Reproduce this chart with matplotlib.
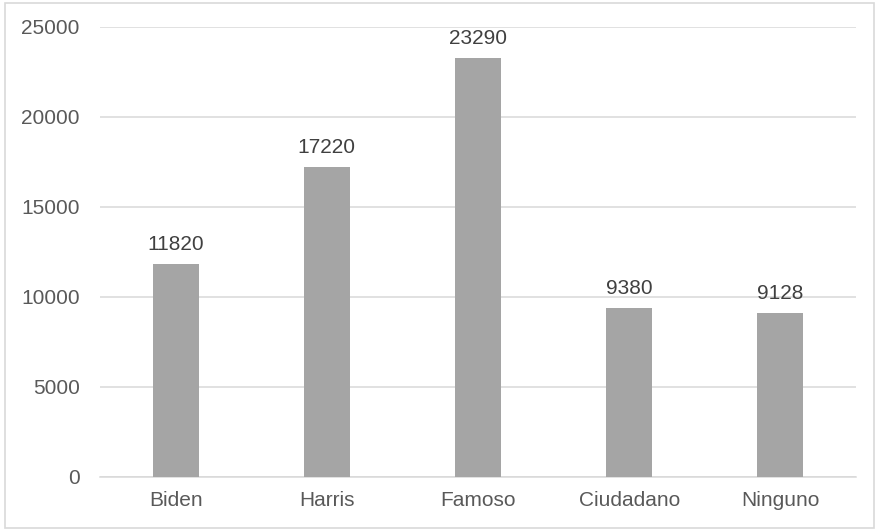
import matplotlib.pyplot as plt
from matplotlib.patches import Rectangle

plt.rcParams['font.family'] = ['Liberation Sans', 'DejaVu Sans']

categories = ['Biden', 'Harris', 'Famoso', 'Ciudadano', 'Ninguno']
values = [11820, 17220, 23290, 9380, 9128]
y_ticks = [0, 5000, 10000, 15000, 20000, 25000]

text_color = '#595959'
label_color = '#404040'
grid_color = '#D9D9D9'
bar_color = '#A5A5A5'

fig = plt.figure(figsize=(8.79, 5.30), dpi=100)
ax = fig.add_axes([100 / 879, 53 / 530, 756 / 879, 450 / 530])

x = range(len(categories))
bars = ax.bar(x, values, width=0.305, color=bar_color, zorder=3)

for b, v in zip(bars, values):
    ax.annotate(str(v), (b.get_x() + b.get_width() / 2, v), xytext=(0, 10),
                textcoords='offset points', ha='center', va='baseline',
                fontsize=15, color=label_color)

ax.set_xlim(-0.5, len(categories) - 0.5)
ax.set_ylim(0, 25000)
ax.set_yticks(y_ticks)
ax.set_yticklabels([str(t) for t in y_ticks])
ax.set_xticks(list(x))
ax.set_xticklabels(categories)
ax.yaxis.grid(True, color=grid_color, linewidth=1.1, zorder=0)
ax.tick_params(axis='both', length=0, labelsize=15, colors=text_color)
ax.tick_params(axis='y', pad=14.5)
ax.tick_params(axis='x', pad=10)

for side in ['top', 'right', 'left']:
    ax.spines[side].set_visible(False)
ax.spines['bottom'].set_color(grid_color)
ax.spines['bottom'].set_linewidth(1.1)

# chart area frame
fig.patches.append(Rectangle((5 / 879, 2 / 530), 869 / 879, 525 / 530,
                             transform=fig.transFigure, fill=False,
                             edgecolor=grid_color, linewidth=1.2))

fig.savefig('out.png', dpi=100)
